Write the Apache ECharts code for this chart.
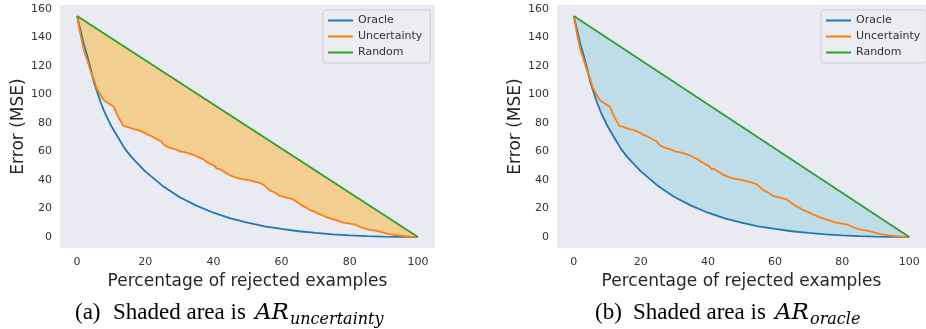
<!DOCTYPE html>
<html>
<head>
<meta charset="utf-8">
<script src="https://cdn.jsdelivr.net/npm/echarts@6/dist/echarts.min.js"></script>
<style>
html,body{margin:0;padding:0;background:#fff;}
#c{width:926px;height:329px;}
</style>
</head>
<body>
<div id="c"></div>
<script>
// ---- data ----
const xTicks = [0, 20, 40, 60, 80, 100];
const yTicks = [0, 20, 40, 60, 80, 100, 120, 140, 160];

const oracleX = [0,1,2,3,4,5,6,7,8,10,12,14,16,18,20,25,30,35,40,45,50,55,60,65,70,75,80,85,90,95,100];
const oracleErr = [155,145,135,127,118,108,101,94,88,78,70,62,56,51,46,36,28,22,17,13,10,7.5,5.6,4,2.8,1.8,1.1,0.6,0.3,0.1,0];

const uncX = [0,1,2,3,3.9,5,5.8,6.8,7.8,9,10.7,11.2,11.7,12.6,13.6,15,16.6,18,19.5,20.5,21.5,22.4,23.5,24.8,25.1,25.3,26.2,27.3,28.8,30.2,31.5,33.1,34.5,36,37,38,39.2,40.4,40.9,42,42.8,44.3,45.8,47.7,49.5,51.6,53,54.5,55.5,56.5,58,59.4,61.5,63.3,64.8,66.2,67.2,68.2,69.8,71.1,72.6,74,76,77.9,80,81.8,83.2,84.7,86,87.6,89.5,91.5,94,96.4,98,100];
const uncErr = [155,142,131,124,117,110,104,100,96,94,91.5,89,86,82,78,77,75.7,75,73.4,72,71,70,68.5,67,65.5,64.3,63.5,62.5,61.5,60,59.5,58.5,57.3,55.5,54.5,52.7,51.2,49.7,48,47.5,46.2,44,42.3,41,40.2,39.2,38.3,37,35,32.7,31.2,28.8,27.6,26.5,24,21.8,20.6,19,17.6,16,14.5,13.2,11.8,10.2,9.3,8.4,6.8,5.6,4.9,4.4,3.2,2,1.1,0.5,0.2,0];

const randomX = [0, 100];
const randomErr = [155, 0];

const seriesNames = ['Oracle', 'Uncertainty', 'Random'];
const lineColors = ['#1f77b4', '#ff7f0e', '#2ca02c'];
const captionA = ['(a)', 'Shaded area is', 'AR', 'uncertainty'];
const captionB = ['(b)', 'Shaded area is', 'AR', 'oracle'];
const xTitle = 'Percentage of rejected examples';
const yTitle = 'Error (MSE)';

// ---- helpers ----
function pairs(xs, ys) { return xs.map((x, i) => [x, ys[i]]); }

const FONT = 'DejaVu Sans';
const TXT = '#333';

function makeAxes(idx) {
  const xAxis = {
    type: 'value', gridIndex: idx, min: -5, max: 105,
    axisLine: {show: false}, axisTick: {show: false}, splitLine: {show: false},
    axisLabel: {customValues: xTicks, color: TXT, fontSize: 11, fontFamily: FONT, margin: 9},
    name: xTitle, nameLocation: 'middle', nameGap: 21,
    nameTextStyle: {fontSize: 17, color: '#262626', fontFamily: FONT}
  };
  const yAxis = {
    type: 'value', gridIndex: idx, min: -7.75, max: 162.75,
    axisLine: {show: false}, axisTick: {show: false}, splitLine: {show: false},
    axisLabel: {customValues: yTicks, color: TXT, fontSize: 11, fontFamily: FONT, margin: 8},
    name: yTitle, nameLocation: 'middle', nameGap: 33,
    nameTextStyle: {fontSize: 17, color: '#262626', fontFamily: FONT}
  };
  return {xAxis, yAxis};
}

function polygonSeries(idx, lowX, lowY, color) {
  const low = pairs(lowX, lowY);
  const high = pairs(randomX, randomErr).slice().reverse();
  const pts = low.concat(high);
  return {
    type: 'custom', xAxisIndex: idx, yAxisIndex: idx, z: 1, silent: true,
    data: [0],
    renderItem: function (params, api) {
      return {
        type: 'polygon',
        shape: {points: pts.map(p => api.coord(p))},
        style: {fill: color, stroke: null}
      };
    }
  };
}

function lineSeries(idx) {
  const data = [pairs(oracleX, oracleErr), pairs(uncX, uncErr), pairs(randomX, randomErr)];
  return seriesNames.map((n, i) => ({
    name: n, type: 'line', xAxisIndex: idx, yAxisIndex: idx, z: 3,
    data: data[i], symbol: 'none', smooth: false,
    lineStyle: {color: lineColors[i], width: 1.8}, itemStyle: {color: lineColors[i]}
  }));
}

function legend(left, padRight) {
  return {
    left: left, top: 10, orient: 'vertical', data: seriesNames,
    icon: 'path://M0,0L25,0L25,2L0,2Z', symbolKeepAspect: true,
    itemWidth: 25, itemHeight: 11, itemGap: 5,
    padding: [5, padRight, 5, 5],
    backgroundColor: 'rgba(236,236,243,0.9)', borderColor: '#cfcfd6', borderWidth: 1, borderRadius: 3,
    textStyle: {fontSize: 11, color: TXT, fontFamily: FONT}
  };
}

const a0 = makeAxes(0), a1 = makeAxes(1);

function caption(parts, x0) {
  const main = {fontFamily: 'Liberation Serif', fontSize: 23, fill: '#000', verticalAlign: 'middle'};
  const ital = {fontFamily: 'DejaVu Serif', fontStyle: 'italic', fontSize: 23, fill: '#000', verticalAlign: 'middle'};
  const sub = {fontFamily: 'DejaVu Serif', fontStyle: 'italic', fontSize: 16, fill: '#000', verticalAlign: 'middle'};
  const yMain = 313, ySub = 320;
  return [
    {type: 'text', x: x0, y: yMain, style: Object.assign({text: parts[0]}, main)},
    {type: 'text', x: x0 + 38, y: yMain, style: Object.assign({text: parts[1]}, main)},
    {type: 'text', x: x0 + 180, y: yMain, style: Object.assign({text: parts[2]}, ital)},
    {type: 'text', x: x0 + 215, y: ySub, style: Object.assign({text: parts[3]}, sub)}
  ];
}

const option = {
  backgroundColor: '#ffffff',
  animation: false,
  grid: [
    {left: 60, top: 5, width: 375, height: 243, show: true, backgroundColor: '#EAEAF2', borderWidth: 0},
    {left: 557, top: 5, width: 375, height: 243, show: true, backgroundColor: '#EAEAF2', borderWidth: 0}
  ],
  xAxis: [a0.xAxis, a1.xAxis],
  yAxis: [a0.yAxis, a1.yAxis],
  legend: [legend(323, 8), legend(821, 6)],
  series: [
    polygonSeries(0, uncX, uncErr, '#F2CE91'),
    ...lineSeries(0),
    polygonSeries(1, oracleX, oracleErr, '#BFDDE8'),
    ...lineSeries(1)
  ],
  graphic: caption(captionA, 75).concat(caption(captionB, 595))
};

const chart = echarts.init(document.getElementById('c'), null, {renderer: 'canvas'});
chart.setOption(option);
</script>
</body>
</html>
